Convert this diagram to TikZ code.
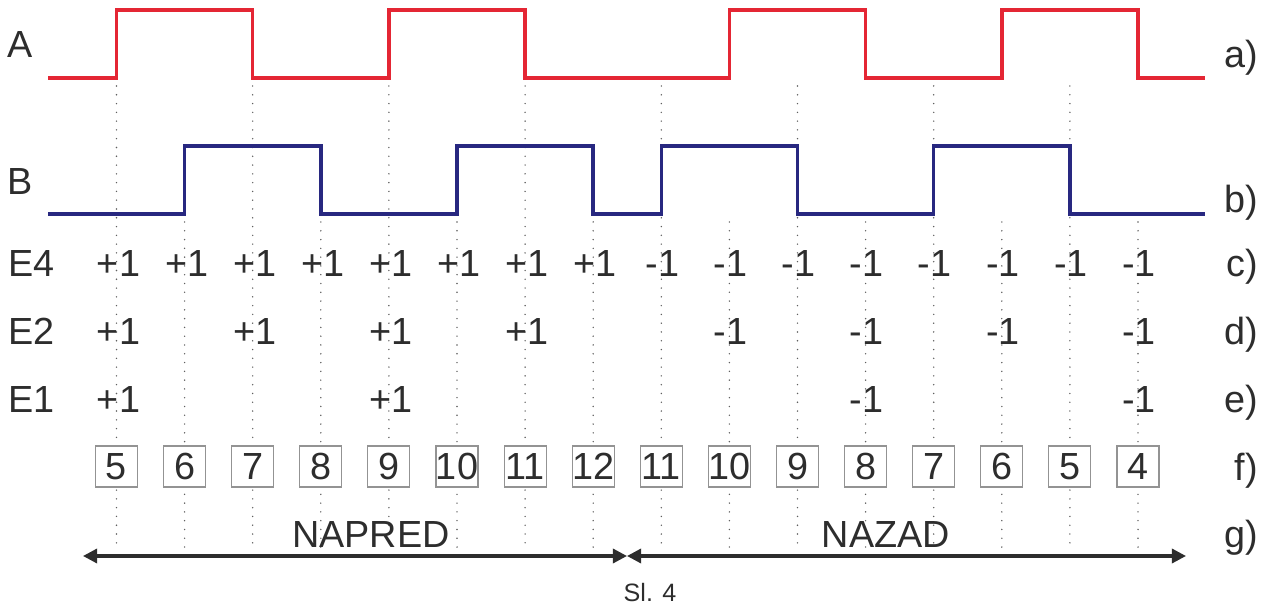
\documentclass[tikz,border=0pt]{standalone}
\usepackage{fontspec}
\setmainfont{Liberation Sans}
\usepackage{xcolor}
\usetikzlibrary{arrows.meta}

\definecolor{sigred}{RGB}{228,38,52}
\definecolor{sigblue}{RGB}{40,40,128}
\definecolor{inkgray}{RGB}{45,45,45}
\definecolor{dotgray}{RGB}{95,95,95}

\begin{document}
\begin{tikzpicture}[x=0.02cm, y=-0.02cm,
    txt/.style={text=inkgray, inner sep=0pt, font=\fontsize{21.5}{24}\selectfont},
    lbl/.style={txt, anchor=base west},
    val/.style={txt, anchor=base},
    tag/.style={txt, anchor=base east},
    cnt/.style={txt, draw=gray!85, fill=white, line width=0.6pt, minimum width=0.84cm, minimum height=0.82cm},
    guide/.style={dotgray, line width=0.9pt, line cap=round, dash pattern=on 0pt off 5pt},
    sig/.style={line width=2pt},
    dir/.style={inkgray, line width=1.8pt, {Triangle[length=8pt,width=8pt]}-{Triangle[length=8pt,width=8pt]}}]
            \useasboundingbox (0,0) rectangle (1271,604);

            \foreach \i in {0,2,...,14} \draw[guide] ({116.5+68.1*\i},86) -- ({116.5+68.1*\i},549);
            \foreach \i in {1,3,...,15} \draw[guide] ({116.5+68.1*\i},222) -- ({116.5+68.1*\i},549);

            \draw[sig, sigred] (48,78) -| (116.5,10) -| (252.7,78) -| (388.9,10) -| (525.1,78) -| (729.4,10) -| (865.6,78) -| (1001.8,10) -| (1138,78) -- (1205,78);
            \draw[sig, sigblue] (48,214) -| (184.6,146) -| (320.8,214) -| (457,146) -| (593.2,214) -| (661.3,146) -| (797.5,214) -| (933.7,146) -| (1069.9,214) -- (1205,214);

            \node[lbl] (sigA) at (7,58) {A};
            \node[lbl] (sigB) at (7,195) {B};
            \node[lbl] (rowE4) at (8,277) {E4};
            \node[lbl] (rowE2) at (8,345) {E2};
            \node[lbl] (rowE1) at (8,413) {E1};

            \foreach \i in {0,...,7} \node[val] (e4n\i) at ({118.5+68.1*\i},277) {+1};
            \foreach \i in {8,...,15} \node[val] (e4n\i) at ({117.5+68.1*\i},277) {-1};
            \foreach \i/\v in {0/+1,2/+1,4/+1,6/+1} \node[val] (e2n\i) at ({118.5+68.1*\i},345) {\v};
            \foreach \i/\v in {9/-1,11/-1,13/-1,15/-1} \node[val] (e2n\i) at ({117.5+68.1*\i},345) {\v};
            \foreach \i/\v in {0/+1,4/+1} \node[val] (e1n\i) at ({118.5+68.1*\i},413) {\v};
            \foreach \i/\v in {11/-1,15/-1} \node[val] (e1n\i) at ({117.5+68.1*\i},413) {\v};

            \foreach \n [count=\i from 0] in {5,6,7,8,9,10,11,12,11,10,9,8,7,6,5,4}
                \node[cnt] (box\i) at ({116.5+68.1*\i},466.5) {\n};

            \foreach \t/\y in {a/68,b/213,c/277,d/345,e/413,f/480,g/547}
                \node[tag] (tag\t) at (1258,\y) {\t)};

            \coordinate (fwdL) at (83,556);
            \coordinate (turn) at (627,556);
            \coordinate (bwdR) at (1186,556);
            \draw[dir] (fwdL) -- (turn);
            \draw[dir] (turn) -- (bwdR);

            \node[val] (fwd) at (371,547) {NAPRED};
            \node[val] (bwd) at (886,547) {NAZAD};
            \node[val, font=\fontsize{14.3}{16}\selectfont] (fig) at (650,601) {Sl. 4};
        \end{tikzpicture}
\end{document}
